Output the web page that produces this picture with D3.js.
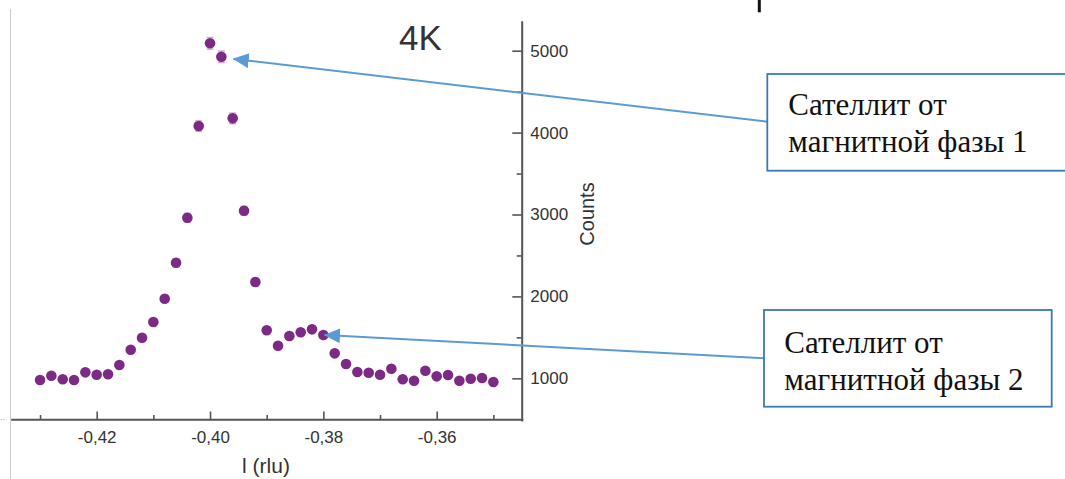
<!DOCTYPE html>
<html>
<head>
<meta charset="utf-8">
<script src="https://cdn.jsdelivr.net/npm/d3@7"></script>
<style>
  body { margin: 0; background: #fff; }
  svg { display: block; font-family: "Liberation Sans", Arial, sans-serif; }
</style>
</head>
<body>
<div id="chart"></div>
<script>
// values
const l_vals = [-0.430, -0.428, -0.426, -0.424, -0.422, -0.420, -0.418, -0.416, -0.414, -0.412,
                -0.410, -0.408, -0.406, -0.404, -0.402, -0.400, -0.398, -0.396, -0.394, -0.392,
                -0.390, -0.388, -0.386, -0.384, -0.382, -0.380, -0.378, -0.376, -0.374, -0.372,
                -0.370, -0.368, -0.366, -0.364, -0.362, -0.360, -0.358, -0.356, -0.354, -0.352,
                -0.350];
const counts = [979, 1032, 988, 979, 1073, 1044, 1049, 1162, 1349, 1496,
                1687, 1972, 2411, 2961, 4080, 5090, 4926, 4174, 3046, 2176,
                1586, 1398, 1516, 1562, 1598, 1529, 1305, 1175, 1077, 1068,
                1044, 1117, 988, 971, 1093, 1024, 1040, 971, 995, 1004,
                955];
const errs = [30, 32, 30, 30, 33, 32, 32, 34, 37, 39,
              41, 44, 49, 54, 64, 71, 70, 65, 55, 47,
              40, 37, 39, 40, 40, 39, 36, 34, 33, 33,
              32, 33, 31, 31, 33, 32, 32, 31, 32, 32,
              31];
const x_major = [-0.42, -0.40, -0.38, -0.36];
const x_minor = [-0.43, -0.41, -0.39, -0.37, -0.35];
const y_major = [1000, 2000, 3000, 4000, 5000];
const y_minor = [1500, 2500, 3500, 4500];
const title = "4K";
const x_title = "l (rlu)";
const y_title = "Counts";
const note_lines = [["Сателлит от", "магнитной фазы 1"], ["Сателлит от", "магнитной фазы 2"]];
const note_targets = [[-0.3959, 4900], [-0.3798, 1529]];

const W = 1065, H = 479;
const plot_left = 11.7, plot_right = 521.7, plot_top = 21.7, plot_bottom = 419.3;
const dot_color = "#7d2a86";
const axis_color = "#555";
const arrow_color = "#5b9bd5";
const box_color = "#3d77b8";

const svg = d3.select("#chart").append("svg")
    .attr("width", W)
    .attr("height", H);

const x = d3.scaleLinear().domain([-0.435, -0.345]).range([plot_left, plot_right]);
const y = d3.scaleLinear().domain([491, 5354]).range([420, plot_top]);

// faint page edge at left
svg.append("line")
    .attr("x1", 10.5).attr("x2", 10.5)
    .attr("y1", 9).attr("y2", H)
    .attr("stroke", "#cccccc").attr("stroke-width", 1);

svg.append("text")
    .attr("x", 0).attr("y", 420)
    .attr("font-size", 9).attr("fill", "#999")
    .text("..");

// stray mark at the top
svg.append("line")
    .attr("x1", 759.3).attr("x2", 759.3)
    .attr("y1", 0).attr("y2", 12.3)
    .attr("stroke", "#111").attr("stroke-width", 3);

const fmt = v => d3.format(".2f")(v).replace("\u2212", "-").replace(".", ",");

// x axis: ticks point inward
svg.append("g")
    .attr("transform", `translate(0,${plot_bottom})`)
    .call(d3.axisBottom(x).tickValues(x_major).tickFormat(fmt)
        .tickSizeInner(-7.7).tickSizeOuter(0).tickPadding(11.3));

svg.append("g")
    .attr("transform", `translate(0,${plot_bottom})`)
    .call(d3.axisBottom(x).tickValues(x_minor).tickFormat("")
        .tickSizeInner(-4.3).tickSizeOuter(0))
    .select(".domain").remove();

// y axis on the right, ticks toward the plot
svg.append("g")
    .attr("transform", `translate(${plot_right},0)`)
    .call(d3.axisRight(y).tickValues(y_major).tickFormat(d3.format("d"))
        .tickSizeInner(-9.4).tickSizeOuter(0).tickPadding(8.6));

svg.append("g")
    .attr("transform", `translate(${plot_right},0)`)
    .call(d3.axisRight(y).tickValues(y_minor).tickFormat("")
        .tickSizeInner(-5).tickSizeOuter(0))
    .select(".domain").remove();

svg.selectAll(".domain")
    .attr("stroke", axis_color)
    .attr("stroke-width", 2)
    .attr("stroke-linecap", "square");
svg.selectAll(".tick line")
    .attr("stroke", axis_color)
    .attr("stroke-width", 1.6);
svg.selectAll(".tick text")
    .attr("font-size", 17)
    .attr("fill", "#333")
    .attr("font-family", "Liberation Sans, Arial, sans-serif");

svg.append("text")
    .attr("x", 266).attr("y", 473)
    .attr("text-anchor", "middle")
    .attr("font-size", 21).attr("fill", "#333")
    .text(x_title);

svg.append("text")
    .attr("transform", "translate(594,214) rotate(-90)")
    .attr("text-anchor", "middle")
    .attr("font-size", 20).attr("fill", "#333")
    .text(y_title);

svg.append("text")
    .attr("x", 399).attr("y", 50)
    .attr("font-size", 35).attr("fill", "#333")
    .text(title);

// data
const pts = l_vals.map((l, i) => ({ l: l, c: counts[i], e: errs[i] }));

const bars = svg.append("g")
    .attr("stroke", "#cfa9d2")
    .attr("stroke-width", 1.4);
bars.selectAll("line.err")
    .data(pts)
    .join("line")
    .attr("class", "err")
    .attr("x1", d => x(d.l)).attr("x2", d => x(d.l))
    .attr("y1", d => y(d.c - d.e)).attr("y2", d => y(d.c + d.e));
bars.selectAll("line.cap_hi")
    .data(pts)
    .join("line")
    .attr("class", "cap_hi")
    .attr("x1", d => x(d.l) - 3.5).attr("x2", d => x(d.l) + 3.5)
    .attr("y1", d => y(d.c + d.e)).attr("y2", d => y(d.c + d.e));
bars.selectAll("line.cap_lo")
    .data(pts)
    .join("line")
    .attr("class", "cap_lo")
    .attr("x1", d => x(d.l) - 3.5).attr("x2", d => x(d.l) + 3.5)
    .attr("y1", d => y(d.c - d.e)).attr("y2", d => y(d.c - d.e));

svg.append("g")
    .selectAll("circle")
    .data(pts)
    .join("circle")
    .attr("cx", d => x(d.l))
    .attr("cy", d => y(d.c))
    .attr("r", 5.3)
    .attr("fill", dot_color);

// callouts
const boxes = [
    { x: 767.3, y: 74, w: 310, h: 96.7, tx: 788.3, ty: 115, ay: 121.7 },
    { x: 764, y: 310, w: 287.7, h: 96.7, tx: 784.3, ty: 352.7, ay: 358.3 }
];

svg.append("defs").append("marker")
    .attr("id", "head")
    .attr("viewBox", "0 0 16 15")
    .attr("refX", 15.5).attr("refY", 7.5)
    .attr("markerWidth", 16).attr("markerHeight", 15)
    .attr("markerUnits", "userSpaceOnUse")
    .attr("orient", "auto")
    .append("path")
    .attr("d", "M0,0 L16,7.5 L0,15 Z")
    .attr("fill", arrow_color);

boxes.forEach((b, i) => {
    const t = note_targets[i];
    svg.append("line")
        .attr("x1", b.x).attr("y1", b.ay)
        .attr("x2", x(t[0])).attr("y2", y(t[1]))
        .attr("stroke", arrow_color)
        .attr("stroke-width", 2)
        .attr("marker-end", "url(#head)");

    svg.append("rect")
        .attr("x", b.x).attr("y", b.y)
        .attr("width", b.w).attr("height", b.h)
        .attr("fill", "#fff")
        .attr("stroke", box_color)
        .attr("stroke-width", 1.8);

    svg.append("text")
        .attr("font-family", "Liberation Serif, 'Times New Roman', serif")
        .attr("font-size", 31)
        .attr("fill", "#111")
        .selectAll("tspan")
        .data(note_lines[i])
        .join("tspan")
        .attr("x", b.tx)
        .attr("y", (d, k) => b.ty + k * 37.3)
        .text(d => d);
});
</script>
</body>
</html>
